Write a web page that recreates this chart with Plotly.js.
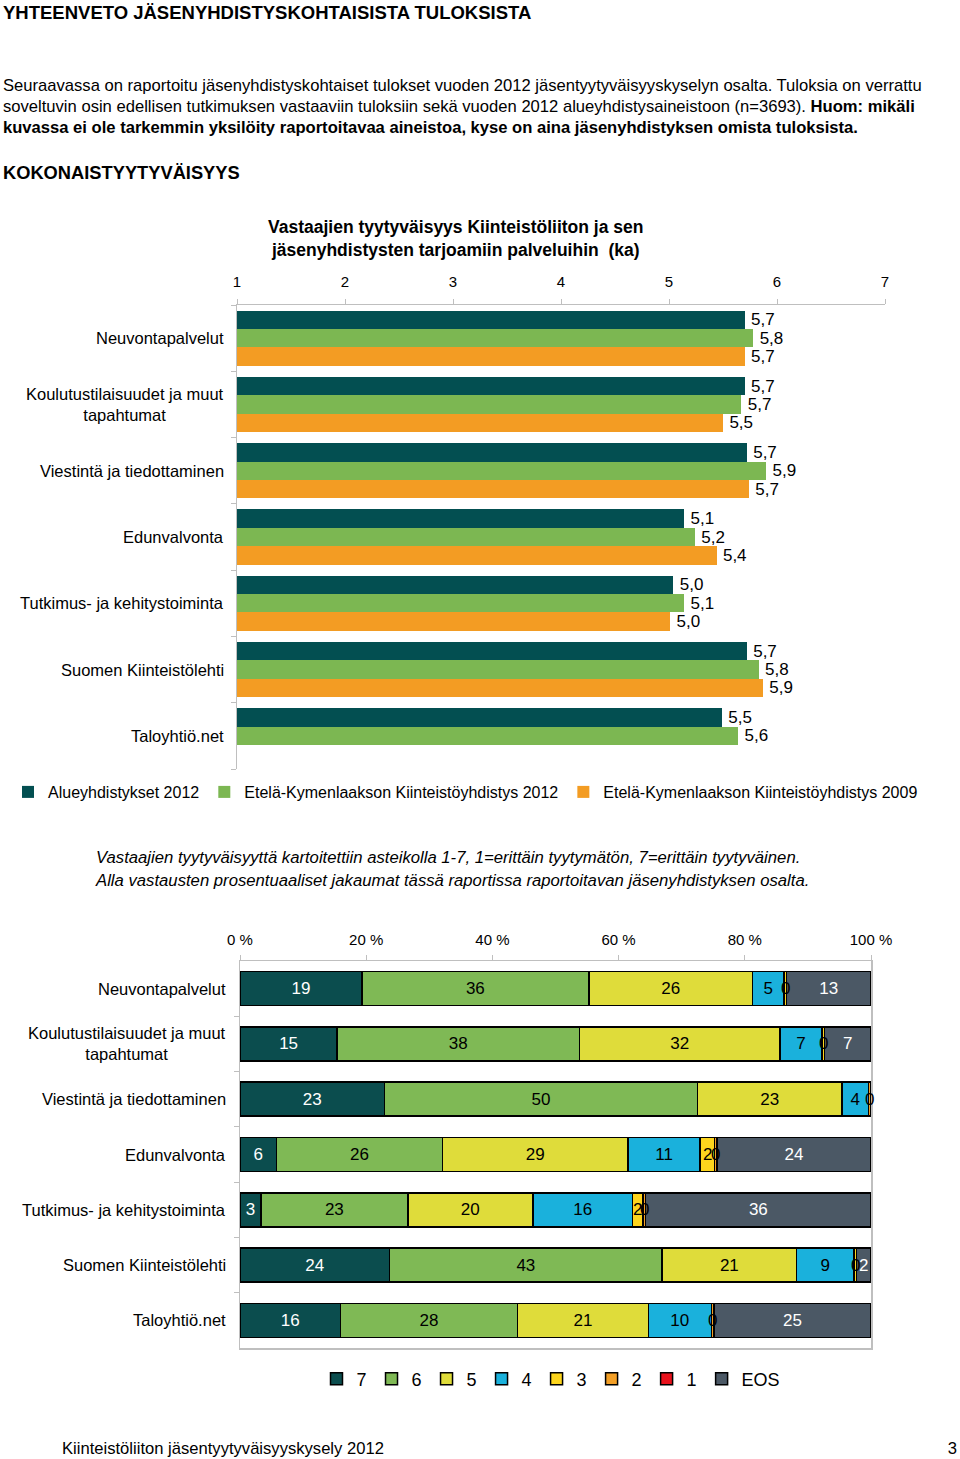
<!DOCTYPE html>
<html>
<head>
<meta charset="utf-8">
<script src="https://cdn.plot.ly/plotly-3.0.1.min.js"></script>
<style>
  html, body { margin: 0; padding: 0; background: #fff; }
  body { width: 960px; height: 1459px; position: relative; overflow: hidden;
         font-family: "Liberation Sans", Arial, sans-serif; color: #000; }
  .t { position: absolute; white-space: nowrap; }
  #chart { position: absolute; left: 0; top: 0; width: 960px; height: 1459px; }
</style>
</head>
<body>
<div id="chart"></div>
<div class="t" style="left:3px; top:2px; font-size:18.5px; font-weight:bold;">YHTEENVETO JÄSENYHDISTYSKOHTAISISTA TULOKSISTA</div>
<div class="t" style="left:3px; top:75px; font-size:16.6px; line-height:21px;">Seuraavassa on raportoitu jäsenyhdistyskohtaiset tulokset vuoden 2012 jäsentyytyväisyyskyselyn osalta. Tuloksia on verrattu<br>soveltuvin osin edellisen tutkimuksen vastaaviin tuloksiin sekä vuoden 2012 alueyhdistysaineistoon (n=3693). <b>Huom: mikäli</b><br><b>kuvassa ei ole tarkemmin yksilöity raportoitavaa aineistoa, kyse on aina jäsenyhdistyksen omista tuloksista.</b></div>
<div class="t" style="left:3px; top:162px; font-size:18.3px; font-weight:bold;">KOKONAISTYYTYVÄISYYS</div>
<div class="t" style="left:96px; top:846px; font-size:16.7px; line-height:23px; font-style:italic;">Vastaajien tyytyväisyyttä kartoitettiin asteikolla 1-7, 1=erittäin tyytymätön, 7=erittäin tyytyväinen.<br>Alla vastausten prosentuaaliset jakaumat tässä raportissa raportoitavan jäsenyhdistyksen osalta.</div>
<div class="t" style="left:62px; top:1439px; font-size:16.6px;">Kiinteistöliiton jäsentyytyväisyyskysely 2012</div>
<div class="t" style="right:3px; top:1439px; font-size:16.6px;">3</div>
<script>
// ---------- Data: chart 1 (means, scale 1-7) ----------
const categories = [
  'Neuvontapalvelut',
  'Koulutustilaisuudet ja muut<br>tapahtumat',
  'Viestintä ja tiedottaminen',
  'Edunvalvonta',
  'Tutkimus- ja kehitystoiminta',
  'Suomen Kiinteistölehti',
  'Taloyhtiö.net'
];
const seriesNames1 = ['Alueyhdistykset 2012', 'Etelä-Kymenlaakson Kiinteistöyhdistys 2012', 'Etelä-Kymenlaakson Kiinteistöyhdistys 2009'];
const alue2012 = [5.70, 5.70, 5.72, 5.14, 5.04, 5.72, 5.49];
const ek2012   = [5.78, 5.67, 5.90, 5.24, 5.14, 5.83, 5.64];
const ek2009   = [5.70, 5.50, 5.74, 5.44, 5.01, 5.87, null];
const axis1Ticks = [1, 2, 3, 4, 5, 6, 7];

// ---------- Data: chart 2 (distribution %, scale 7..1 + EOS) ----------
const levelNames = ['7', '6', '5', '4', '3', '2', '1', 'EOS'];
const pct7   = [19.3, 15.4, 22.9,  5.8,  3.3, 23.7, 15.9];
const pct6   = [36.0, 38.4, 49.6, 26.3, 23.3, 43.2, 28.1];
const pct5   = [25.9, 31.8, 22.9, 29.4, 19.8, 21.3, 20.7];
const pct4   = [ 5.0,  6.6,  4.2, 11.4, 15.8,  9.1, 10.0];
const pct3   = [ 0.4,  0.4,  0.0,  2.3,  1.7,  0.4,  0.0];
const pct2   = [ 0.0,  0.0,  0.4,  0.4,  0.4,  0.0,  0.4];
const pct1   = [ 0.0,  0.0,  0.0,  0.0,  0.0,  0.0,  0.0];
const pctEOS = [13.4,  7.4,  0.0, 24.4, 35.7,  2.3, 24.9];
const axis2Ticks = [0, 20, 40, 60, 80, 100];

// ---------- Styling ----------
const FONT = '"Liberation Sans", Arial, sans-serif';
const colors1 = ['#034f51', '#7cb752', '#f39c23'];
const colors2 = ['#0b4d4e', '#7fb955', '#dfdc3a', '#1ab1dc', '#fdd51d', '#f39f26', '#e8121c', '#4b5865'];
const textColors2 = ['#ffffff', '#000000', '#000000', '#000000', '#000000', '#000000', '#000000', '#ffffff'];
const smallSeries = [4, 5, 6]; // thin segments (3, 2, 1): labels drawn on top as annotations
const W = 960, H = 1459;
const py = p => 1 - p / H;   // pixel y -> paper y
const px = p => p / W;       // pixel x -> paper x

const idx = categories.map((_, i) => i);
const fmt1 = v => (v == null ? '' : '\u2009' + v.toFixed(1).replace('.', ','));

const traces = [];
const nGroup = 3, groupWidth = 0.83, w1 = groupWidth / nGroup;
[alue2012, ek2012, ek2009].forEach((vals, k) => {
  traces.push({
    type: 'bar', orientation: 'h',
    x: vals, y: idx, base: 0,
    width: w1, offset: -groupWidth / 2 + k * w1,
    name: seriesNames1[k],
    marker: { color: colors1[k], line: { width: 0 } },
    text: vals.map(fmt1),
    textposition: 'outside',
    textfont: { family: FONT, size: 16, color: '#000' },
    xaxis: 'x', yaxis: 'y',
    legend: 'legend',
    hoverinfo: 'skip'
  });
});

const pctSeries = [pct7, pct6, pct5, pct4, pct3, pct2, pct1, pctEOS];
pctSeries.forEach((vals, k) => {
  const small = smallSeries.includes(k);
  traces.push({
    type: 'bar', orientation: 'h',
    x: vals, y: idx, width: 0.615,
    name: levelNames[k],
    marker: { color: colors2[k], line: { color: '#000', width: 1.5 } },
    text: vals.map(v => (small ? '' : String(Math.round(v)))),
    textposition: 'inside',
    insidetextanchor: 'middle',
    textfont: { family: FONT, size: 17, color: textColors2[k] },
    xaxis: 'x2', yaxis: 'y2',
    legend: 'legend2',
    hoverinfo: 'skip'
  });
});

const annotations = [];
// chart 1 title
annotations.push({
  xref: 'paper', yref: 'paper', x: px(455), y: py(238),
  xanchor: 'center', yanchor: 'middle', showarrow: false, align: 'center',
  text: '<b>Vastaajien tyytyväisyys Kiinteistöliiton ja sen<br>jäsenyhdistysten tarjoamiin palveluihin  (ka)</b>',
  font: { family: FONT, size: 17.5, color: '#000' }
});
// category labels (centered multi-line, right aligned block)
categories.forEach((c, i) => {
  annotations.push({ xref: 'paper', yref: 'y', x: px(226), y: i, xanchor: 'right', yanchor: 'middle',
    showarrow: false, align: 'center', text: c, font: { family: FONT, size: 16.5, color: '#000' } });
  annotations.push({ xref: 'paper', yref: 'y2', x: px(228), y: i, xanchor: 'right', yanchor: 'middle',
    showarrow: false, align: 'center', text: c, font: { family: FONT, size: 16.5, color: '#000' } });
});
// labels of thin segments, placed at the segment centre (data units)
idx.forEach(i => {
  let cum = 0;
  pctSeries.forEach((vals, k) => {
    const v = vals[i];
    if (smallSeries.includes(k) && v > 0) {
      annotations.push({ xref: 'x2', yref: 'y2', x: cum + v / 2, y: i, xanchor: 'center', yanchor: 'middle',
        showarrow: false, text: String(Math.round(v)), font: { family: FONT, size: 17, color: '#000' } });
    }
    cum += v;
  });
});

const gridGray = '#bfbfbf';
const layout = {
  width: W, height: H,
  margin: { l: 0, r: 0, t: 0, b: 0 },
  paper_bgcolor: 'rgba(0,0,0,0)', plot_bgcolor: 'rgba(0,0,0,0)',
  font: { family: FONT, color: '#000' },
  showlegend: true,
  barmode: 'stack',
  xaxis: {
    domain: [px(237), px(885)], anchor: 'y', side: 'top',
    range: [1, 7], tickvals: axis1Ticks, ticktext: axis1Ticks.map(String),
    showgrid: false, zeroline: false, showline: true, linecolor: gridGray, linewidth: 1.5,
    ticks: 'outside', ticklen: 5, tickcolor: gridGray, ticklabelstandoff: 6,
    tickfont: { family: FONT, size: 15, color: '#000' }, fixedrange: true
  },
  yaxis: {
    domain: [py(769), py(305)], anchor: 'x', type: 'linear',
    range: [6.5, -0.5], showticklabels: false, showgrid: false, zeroline: false,
    showline: true, linecolor: gridGray, linewidth: 1.5,
    tickvals: [-0.5, 0.5, 1.5, 2.5, 3.5, 4.5, 5.5, 6.5], ticks: 'outside', ticklen: 5, tickcolor: gridGray,
    fixedrange: true
  },
  xaxis2: {
    domain: [px(240), px(871)], anchor: 'y2', side: 'top',
    range: [0, 100], tickvals: axis2Ticks, ticktext: axis2Ticks.map(v => v + ' %'),
    showgrid: false, zeroline: false, showline: true, mirror: true, linecolor: gridGray, linewidth: 1.5,
    ticks: 'outside', ticklen: 5, tickcolor: gridGray, ticklabelstandoff: 4,
    tickfont: { family: FONT, size: 15, color: '#000' }, fixedrange: true
  },
  yaxis2: {
    domain: [py(1348), py(961)], anchor: 'x2', type: 'linear',
    range: [6.5, -0.5], showticklabels: false, showgrid: false, zeroline: false,
    showline: true, mirror: true, linecolor: gridGray, linewidth: 1.5,
    tickvals: [0.5, 1.5, 2.5, 3.5, 4.5, 5.5], ticks: 'outside', ticklen: 5, tickcolor: gridGray,
    fixedrange: true
  },
  legend: {
    orientation: 'h', x: px(8), xanchor: 'left', y: py(792), yanchor: 'middle',
    font: { family: FONT, size: 16, color: '#000' }, bgcolor: 'rgba(0,0,0,0)',
    itemclick: false, itemdoubleclick: false, traceorder: 'normal'
  },
  legend2: {
    orientation: 'h', x: px(551), xanchor: 'center', y: py(1379), yanchor: 'middle',
    font: { family: FONT, size: 18, color: '#000' }, bgcolor: 'rgba(0,0,0,0)',
    itemclick: false, itemdoubleclick: false, traceorder: 'normal'
  },
  uniformtext: { mode: 'show', minsize: 17 },
  annotations: annotations
};

Plotly.newPlot('chart', traces, layout, { staticPlot: true, displayModeBar: false });
</script>
</body>
</html>
